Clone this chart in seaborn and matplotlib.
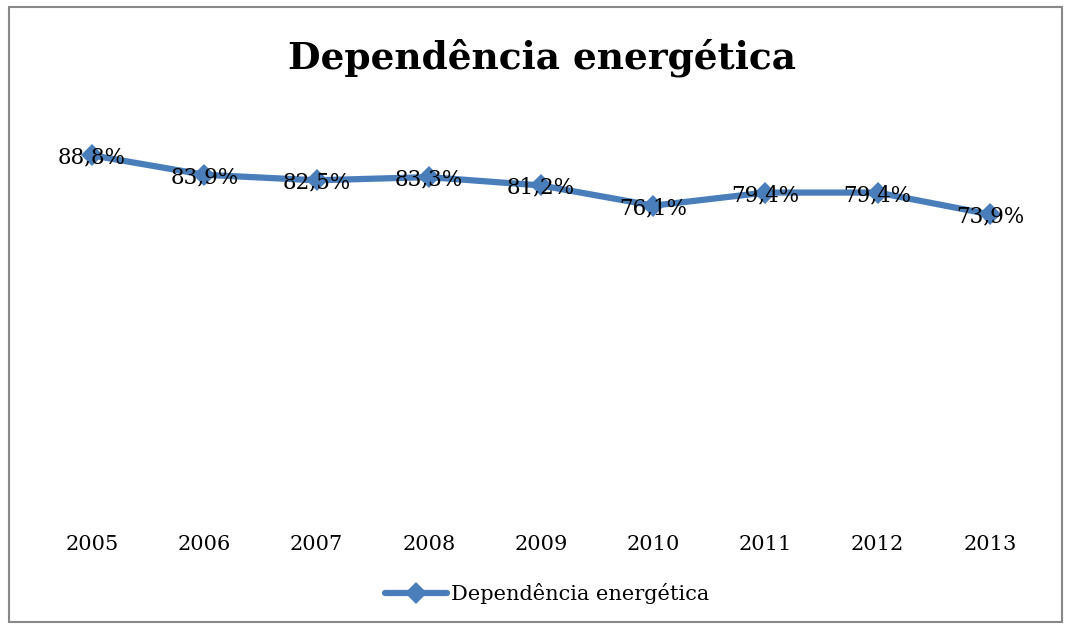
import matplotlib
matplotlib.use("Agg")
import matplotlib.pyplot as plt
import seaborn as sns
import pandas as pd
from matplotlib.patches import Rectangle

years = ["2005", "2006", "2007", "2008", "2009", "2010", "2011", "2012", "2013"]
values = [88.8, 83.9, 82.5, 83.3, 81.2, 76.1, 79.4, 79.4, 73.9]
labels = ["88,8%", "83,9%", "82,5%", "83,3%", "81,2%", "76,1%", "79,4%", "79,4%", "73,9%"]
series_name = "Dependência energética"

df = pd.DataFrame({"ano": years, "valor": values, "serie": series_name})

sns.set_theme(style="white")
plt.rcParams['font.family'] = ['DejaVu Serif']
plt.rcParams['text.color'] = 'black'

color = "#4A7EBB"
fig = plt.figure(figsize=(10.65, 6.24), dpi=100)
ax = fig.add_axes([36/1065, 1 - 507/624, (1046-36)/1065, (507-111)/624])

sns.lineplot(data=df, x="ano", y="valor", hue="serie", palette=[color], marker="D",
             markersize=11, linewidth=4.5, markeredgewidth=0, sort=False, ax=ax)

for i, (v, lab) in enumerate(zip(values, labels)):
    ax.text(i, v - 0.6, lab, ha="center", va="center", fontsize=15.5, color="black")

ax.set_ylim(0, 100)
ax.set_xlim(-0.5, len(years) - 0.5)
ax.set_yticks([])
ax.set_xlabel("")
ax.set_ylabel("")
for s in ax.spines.values():
    s.set_visible(False)
ax.tick_params(axis="x", length=0, labelsize=15, pad=20, colors="black")

fig.text(542/1065, 1 - 58/624, "Dependência energética", ha="center", va="center",
         fontsize=27, fontweight="bold", color="black")

ax.legend_.remove()
h, l = ax.get_legend_handles_labels()
leg = fig.legend(h, l, loc="center", bbox_to_anchor=(547/1065, 1 - 594/624), frameon=False,
                 fontsize=15, handlelength=3, handletextpad=0.2)
for t in leg.get_texts():
    t.set_color("black")

fig.patches.append(Rectangle((9/1065, 2/624), (1062-9)/1065, (617-2)/624, transform=fig.transFigure,
                             fill=False, edgecolor="#888888", linewidth=1.5))

fig.savefig("out.png", dpi=100, facecolor="white")
